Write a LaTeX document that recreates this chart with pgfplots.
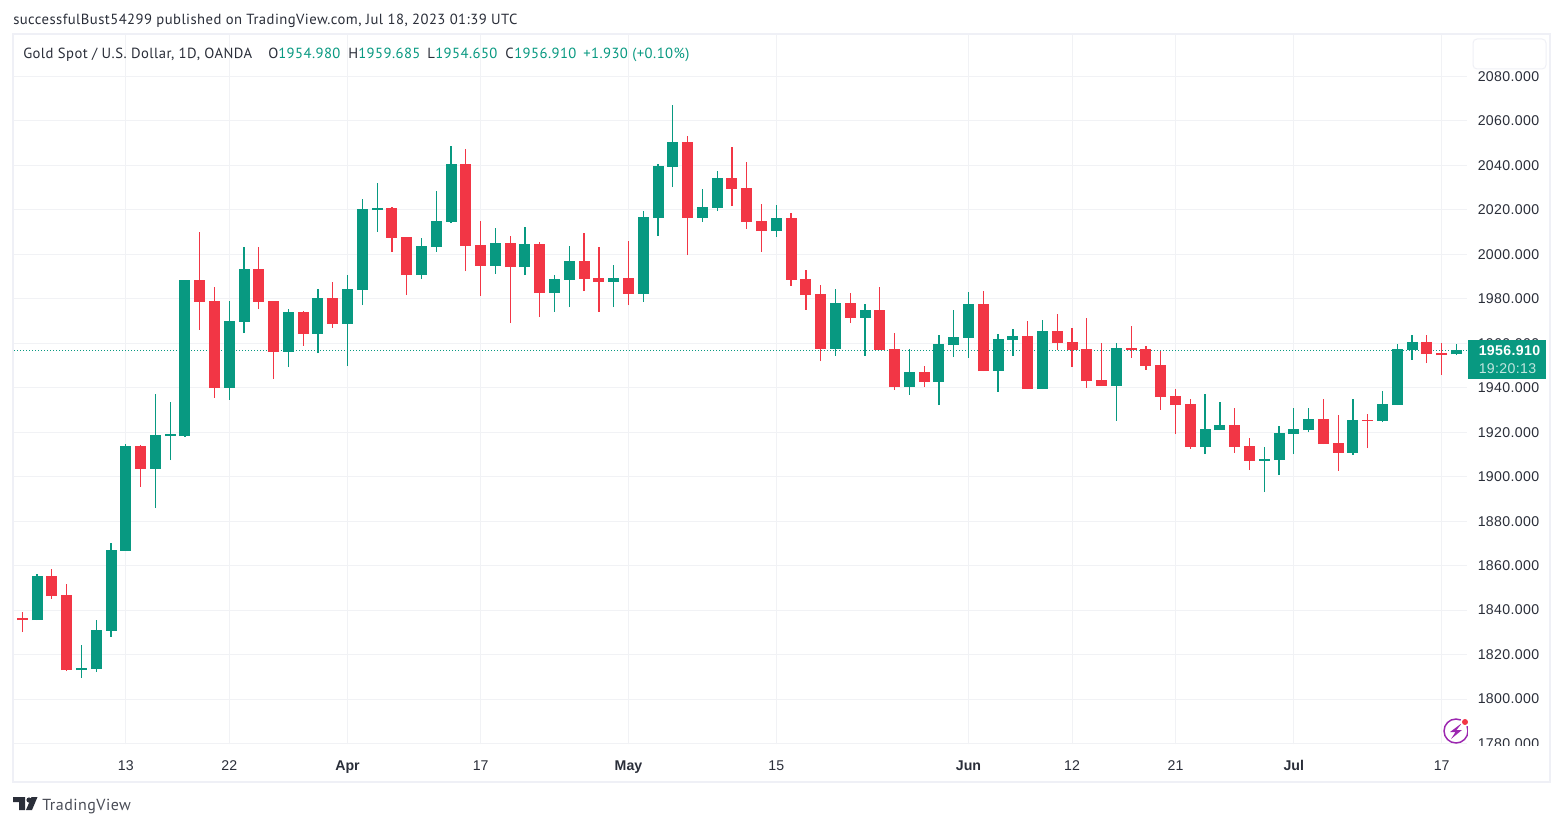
\documentclass[border=0pt]{standalone}
\usepackage{fontspec}
\usepackage{pgfplots}
\usepackage{pgfplotstable}
\pgfplotsset{compat=1.18}
\setmainfont{Liberation Sans}
\newfontfamily\headfont[LetterSpace=3]{PT Sans}
\newfontfamily\pricefont[LetterSpace=2.5]{Liberation Sans}

\definecolor{upc}{HTML}{089981}
\definecolor{downc}{HTML}{F23645}
\definecolor{gridc}{HTML}{F1F2F5}
\definecolor{framec}{HTML}{EFF0F6}
\definecolor{txt}{HTML}{2A2E39}
\definecolor{boltc}{HTML}{9C27B0}

% rising candles: o = body bottom, c = body top
\pgfplotstableread{
i o h l c
1 1835.5 1856.2 1835.5 1855.3
4 1813.0 1824.3 1809.4 1813.9
5 1813.5 1835.5 1812.1 1831.0
6 1830.6 1870.2 1827.9 1867.0
7 1866.6 1914.7 1866.6 1913.8
9 1903.5 1937.2 1885.9 1918.8
10 1918.3 1933.6 1907.5 1919.2
11 1918.3 1988.5 1917.9 1988.5
14 1939.9 1979.0 1934.5 1970.0
15 1969.6 2003.3 1964.6 1993.4
18 1956.1 1975.4 1949.3 1974.1
20 1964.2 1984.4 1955.6 1980.4
22 1968.7 1990.7 1949.8 1984.4
23 1984.0 2024.9 1977.2 2020.4
24 2019.9 2032.1 2010.1 2020.9
27 1990.7 2007.4 1988.9 2003.8
28 2003.3 2028.5 2001.1 2015.0
29 2014.6 2048.7 2014.1 2040.6
32 1994.8 2011.9 1991.2 2005.1
34 1994.3 2012.3 1990.7 2004.7
36 1982.6 1990.7 1974.1 1988.9
37 1988.5 2003.8 1976.3 1997.0
40 1987.6 1995.2 1976.3 1989.4
42 1982.2 2019.5 1978.6 2016.8
43 2016.4 2040.6 2008.3 2039.8
44 2039.3 2067.2 2030.3 2050.5
46 2016.4 2029.4 2014.6 2021.3
47 2020.9 2037.5 2019.5 2034.3
51 2010.5 2022.2 2007.8 2016.4
55 1957.4 1984.4 1954.3 1978.1
57 1971.4 1977.7 1954.3 1975.0
60 1940.3 1957.4 1936.8 1947.1
62 1942.6 1963.7 1932.2 1959.7
63 1959.2 1975.0 1953.8 1962.8
64 1962.4 1983.1 1953.4 1977.7
66 1947.5 1964.2 1938.1 1961.9
67 1961.5 1966.4 1954.3 1963.3
69 1939.4 1970.5 1939.4 1965.5
74 1940.8 1960.1 1925.1 1957.9
80 1913.4 1937.2 1910.2 1921.4
81 1921.0 1933.6 1921.0 1923.3
84 1907.1 1913.4 1893.1 1908.0
85 1907.5 1922.8 1900.8 1919.7
86 1919.2 1930.9 1910.2 1921.4
87 1921.0 1930.9 1920.1 1925.9
90 1910.7 1934.9 1909.8 1925.5
92 1925.1 1938.5 1924.6 1932.7
93 1932.2 1959.7 1932.2 1957.4
94 1957.0 1963.7 1952.5 1960.6
97 1954.98 1959.685 1954.65 1956.91
}\upcandles

% falling candles: o = body top, c = body bottom
\pgfplotstableread{
i o h l c
0 1836.4 1839.1 1830.1 1835.5
2 1855.3 1858.5 1845.0 1846.3
3 1846.8 1851.7 1812.6 1813.0
8 1913.8 1914.3 1895.4 1903.5
12 1988.5 2010.1 1966.0 1978.6
13 1979.0 1985.3 1935.4 1939.9
16 1993.4 2003.3 1975.4 1978.6
17 1979.0 1979.0 1943.9 1956.1
19 1974.1 1974.5 1958.8 1964.2
21 1980.4 1987.6 1966.9 1968.7
25 2020.9 2021.3 2001.1 2007.4
26 2007.8 2007.8 1981.7 1990.7
30 2040.6 2047.4 1992.5 2003.8
31 2004.2 2015.0 1981.3 1994.8
33 2005.1 2008.3 1969.1 1994.3
35 2004.7 2005.6 1971.8 1982.6
38 1997.0 2009.6 1983.5 1988.9
39 1989.4 2003.3 1974.1 1987.6
41 1989.4 2006.0 1977.2 1982.2
45 2050.5 2053.2 1999.7 2016.4
48 2034.3 2048.3 2021.7 2029.4
49 2029.9 2041.6 2011.4 2014.6
50 2015.0 2022.6 2001.1 2010.5
52 2016.4 2018.6 1985.8 1988.5
53 1988.9 1993.0 1975.0 1981.7
54 1982.2 1986.2 1952.0 1957.4
56 1978.1 1982.6 1969.1 1971.4
58 1975.0 1985.3 1957.0 1957.0
59 1957.4 1964.6 1939.0 1940.3
61 1947.1 1949.8 1940.3 1942.6
65 1977.7 1983.5 1947.5 1947.5
68 1963.3 1970.0 1939.4 1939.4
70 1965.5 1973.2 1957.0 1960.1
71 1960.6 1966.9 1949.3 1957.0
72 1957.4 1971.4 1939.9 1943.0
73 1943.5 1960.1 1940.8 1940.8
75 1957.9 1967.8 1953.4 1957.0
76 1957.4 1958.8 1948.0 1949.8
77 1950.2 1957.0 1930.0 1935.8
78 1936.3 1939.4 1919.2 1932.2
79 1932.7 1934.9 1912.5 1913.4
82 1923.3 1930.9 1910.7 1913.4
83 1913.8 1917.4 1903.0 1907.1
88 1925.9 1934.9 1914.7 1914.7
89 1915.2 1927.8 1902.6 1910.7
91 1925.5 1928.2 1912.9 1925.1
95 1960.6 1963.7 1951.1 1955.2
96 1955.6 1960.1 1945.7 1954.7
}\downcandles

\begin{document}
\begin{tikzpicture}[px/.style={x=0.75pt,y=-0.75pt,shift={(0pt,619.5pt)}}]
\begin{scope}[px]
    \path[use as bounding box,fill=white] (0,0) rectangle (1563,826);
\end{scope}

\begin{axis}[
    at={(10.5pt,61.5pt)},
    anchor=south west,
    scale only axis,
    width=1089.75pt,
    height=531.75pt,
    xmin=-0.561, xmax=97.72,
    ymin=1779.77, ymax=2098.67,
    xtick={7,14,22,31,41,51,64,71,78,86,96},
    xticklabels={13,22,\textbf{Apr},17,\textbf{May},15,\textbf{Jun},12,21,\textbf{Jul},17},
    ytick={1780,1800,...,2080},
    yticklabel pos=right,
    yticklabel style={
        /pgf/number format/.cd, fixed, fixed zerofill, precision=3, 1000 sep={}, assume math mode=true,
        /tikz/.cd, font=\pricefont\fontsize{10.6}{13}\selectfont, text=txt, xshift=4.5pt},
    xticklabel style={font=\fontsize{10.6}{13}\selectfont, text=txt, text height=8pt, text depth=0pt, yshift=-8pt},
    grid=major,
    grid style={gridc,line width=0.75pt},
    axis line style={draw=none},
    major tick length=0pt,
]
% wicks
\addplot[draw=none,mark=none,forget plot,error bars/.cd,y dir=plus,y explicit,error mark=none,
    error bar style={upc,line width=0.95pt}]
    table[x=i,y=l,y error plus expr=\thisrow{h}-\thisrow{l}] {\upcandles};
\addplot[draw=none,mark=none,forget plot,error bars/.cd,y dir=plus,y explicit,error mark=none,
    error bar style={downc,line width=0.95pt}]
    table[x=i,y=l,y error plus expr=\thisrow{h}-\thisrow{l}] {\downcandles};
% last price line
\addplot[upc,line width=0.75pt,dash pattern=on 0.8pt off 1.45pt] coordinates {(-0.561,1956.91) (97.72,1956.91)};
% bodies
\addplot[draw=none,mark=none,forget plot,error bars/.cd,y dir=plus,y explicit,error mark=none,
    error bar style={upc,line width=8.25pt}]
    table[x=i,y=o,y error plus expr=\thisrow{c}-\thisrow{o}] {\upcandles};
\addplot[draw=none,mark=none,forget plot,error bars/.cd,y dir=plus,y explicit,error mark=none,
    error bar style={downc,line width=8.25pt}]
    table[x=i,y=c,y error plus expr=\thisrow{o}-\thisrow{c}] {\downcandles};
\end{axis}

\begin{scope}[px]
    % 1780 label is cut by the time scale
    \fill[white] (1468,746) rectangle (1549,781);
    \draw[framec,line width=1.5pt] (13,34) rectangle (1550,782);

    % header lines
    \begin{scope}[every node/.style={anchor=base west,inner sep=0pt,font=\headfont\fontsize{11}{13}\selectfont,text=txt}]
        \node at (13,25) {successfulBust54299 published on TradingView.com, Jul 18, 2023 01:39 UTC};
        \node at (23,59) {Gold Spot / U.S. Dollar, 1D, OANDA};
        \node at (268,59) {O};
        \node[text=upc] at (278,59) {1954.980};
        \node at (348,59) {H};
        \node[text=upc] at (358,59) {1959.685};
        \node at (427,59) {L};
        \node[text=upc] at (435,59) {1954.650};
        \node at (505,59) {C};
        \node[text=upc] at (514,59) {1956.910};
        \node[text=upc] at (583,59) {+1.930 (+0.10\%)};
    \end{scope}

    % empty button top right
    \draw[framec,fill=white,line width=0.75pt,rounded corners=3pt] (1473,39) rectangle (1546,69);

    % last price tag
    \fill[upc] (1468,340) rectangle (1546,379);
    \node[anchor=base west,inner sep=0pt,text=white,font=\pricefont\fontsize{10.6}{13}\selectfont] at (1478.5,356) {\textbf{1956.910}};
    \node[anchor=base west,inner sep=0pt,text=white!75!upc,font=\pricefont\fontsize{10.6}{13}\selectfont] at (1478.5,373) {19:20:13};

    % lightning badge
    \draw[boltc,line width=1.1pt] (1456,731) circle (12);
    \fill[boltc] (1462,723) -- (1450,732) -- (1455.5,732) -- (1451,739) -- (1462,730) -- (1456.5,730) -- cycle;
    \fill[white] (1465,722) circle (5);
    \fill[downc] (1465,722) circle (3);
    \fill[white] (1468,745) rectangle (1472,716);

    % logo and name
    \fill[txt] (13,797) -- (25,797) -- (25,810) -- (19,810) -- (19,802) -- (13,802) -- cycle;
    \fill[txt] (29,800) circle (2.6);
    \fill[txt] (31.5,797) -- (37.5,797) -- (32,810) -- (26,810) -- cycle;
    \node[anchor=base west,inner sep=0pt,font=\headfont\fontsize{12}{13}\selectfont,text=txt!85] at (42,810) {TradingView};
\end{scope}
\end{tikzpicture}
\end{document}
